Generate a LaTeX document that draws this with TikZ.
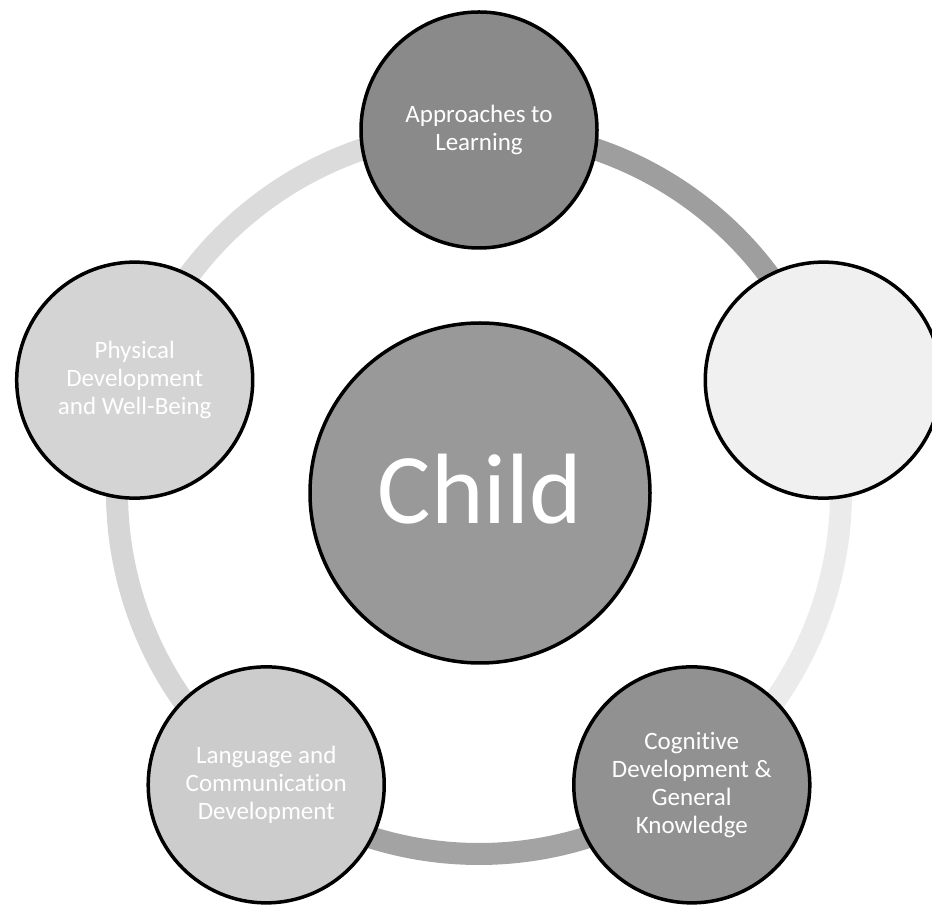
\documentclass[tikz,border=0pt]{standalone}
\usepackage{fontspec}
\setmainfont{Carlito}[Ligatures=NoCommon]
\definecolor{fTop}{gray}{0.54}
\definecolor{fRight}{gray}{0.94}
\definecolor{fBR}{gray}{0.57}
\definecolor{fBL}{gray}{0.80}
\definecolor{fL}{gray}{0.83}
\definecolor{fChild}{gray}{0.60}
\definecolor{rA}{gray}{0.62}
\definecolor{rB}{gray}{0.92}
\definecolor{rC}{gray}{0.64}
\definecolor{rD}{gray}{0.84}
\definecolor{rE}{gray}{0.86}
\begin{document}
\begin{tikzpicture}[x=1pt,y=1pt,
  sat/.style={circle, draw=black, line width=3.5pt, minimum size=236pt, inner sep=0pt,
    text=white, align=center, font=\fontsize{25}{28}\selectfont},
  hub/.style={circle, draw=black, line width=3.5pt, minimum size=340pt, inner sep=0pt,
    text=white, font=\fontsize{100}{100}\selectfont},
  ringseg/.style={line width=22pt},
]
\useasboundingbox (0,0) rectangle (932,908);
\coordinate (C) at (479,416);
\coordinate (pT) at ([shift={(90:362pt)}]C);
\coordinate (pR) at ([shift={(18:362pt)}]C);
\coordinate (pBR) at ([shift={(-54:362pt)}]C);
\coordinate (pBL) at ([shift={(-126:362pt)}]C);
\coordinate (pL) at ([shift={(162:362pt)}]C);
% ring segments
\draw[ringseg, rA] (pT) arc[start angle=90, end angle=18, radius=362pt];
\draw[ringseg, rB] (pR) arc[start angle=18, end angle=-54, radius=362pt];
\draw[ringseg, rC] (pBR) arc[start angle=-54, end angle=-126, radius=362pt];
\draw[ringseg, rD] (pBL) arc[start angle=-126, end angle=-198, radius=362pt];
\draw[ringseg, rE] (pL) arc[start angle=162, end angle=90, radius=362pt];
% satellites
\node[sat, fill=fTop] (top) at (pT) {Approaches to\\Learning};
\node[sat, fill=fRight] (right) at (pR) {};
\node[sat, fill=fBR] (bright) at (pBR) {Cognitive\\Development \&\\General\\Knowledge};
\node[sat, fill=fBL] (bleft) at (pBL) {Language and\\Communication\\Development};
\node[sat, fill=fL] (left) at (pL) {Physical\\Development\\and Well-Being};
% hub
\node[hub, fill=fChild] (child) at (480,415) {};
\node[text=white, font=\fontsize{100}{100}\selectfont, inner sep=0pt] (childlabel) at ([yshift=4pt]child.center) {Child};
\end{tikzpicture}
\end{document}
